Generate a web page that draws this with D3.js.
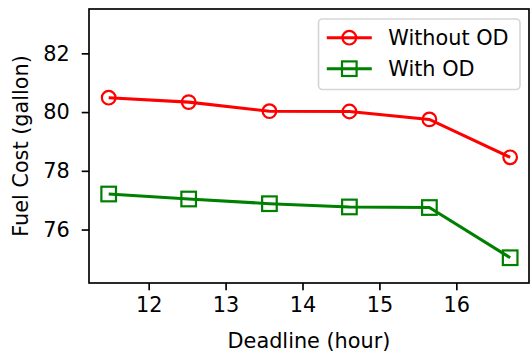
<!DOCTYPE html>
<html>
<head>
<meta charset="utf-8">
<script src="https://cdn.jsdelivr.net/npm/d3@7"></script>
<style>
  body { margin: 0; background: #fff; }
  text { font-family: "DejaVu Sans", sans-serif; }
</style>
</head>
<body>
<div id="chart-area"></div>
<script>
// data
const deadlines = [11.48, 12.52, 13.57, 14.61, 15.65, 16.70]
const withoutOD = [80.49, 80.34, 80.03, 80.02, 79.75, 78.46]
const withOD = [77.21, 77.04, 76.88, 76.77, 76.75, 75.04]
const xTicks = [12, 13, 14, 15, 16]
const yTicks = [76, 78, 80, 82]
const seriesNames = ["Without OD", "With OD"]

// canvas and margin sizes
const MARGIN = { LEFT: 89, RIGHT: 2, TOP: 9, BOTTOM: 69 }
const WIDTH = 531 - MARGIN.LEFT - MARGIN.RIGHT
const HEIGHT = 352 - MARGIN.TOP - MARGIN.BOTTOM
const FONT = "20.8px"

const svg = d3.select("#chart-area").append("svg")
  .attr("width", 531)
  .attr("height", 352)

const g = svg.append("g")
  .attr("transform", `translate(${MARGIN.LEFT}, ${MARGIN.TOP})`)

const x = d3.scaleLinear()
  .domain([11.224, 16.945])
  .range([0, WIDTH])

const y = d3.scaleLinear()
  .domain([74.18, 83.51])
  .range([HEIGHT, 0])

// axes
const xAxisGroup = g.append("g")
  .attr("transform", `translate(0, ${HEIGHT})`)
  .call(d3.axisBottom(x).tickValues(xTicks).tickSize(7.3).tickPadding(7).tickFormat(d3.format("d")))
const yAxisGroup = g.append("g")
  .call(d3.axisLeft(y).tickValues(yTicks).tickSize(7.3).tickPadding(12).tickFormat(d3.format("d")))

;[xAxisGroup, yAxisGroup].forEach(ax => {
  ax.select(".domain").remove()
  ax.selectAll(".tick line").attr("stroke", "#000").attr("stroke-width", 1.67)
  ax.selectAll(".tick text")
    .attr("fill", "#000")
    .style("font-size", FONT)
    .style("font-family", "DejaVu Sans")
})

// frame
g.append("rect")
  .attr("width", WIDTH)
  .attr("height", HEIGHT)
  .attr("fill", "none")
  .attr("stroke", "#000")
  .attr("stroke-width", 1.67)

// labels
g.append("text")
  .attr("x", WIDTH / 2)
  .attr("y", HEIGHT + 65)
  .attr("text-anchor", "middle")
  .style("font-size", FONT)
  .text("Deadline (hour)")

g.append("text")
  .attr("x", -(HEIGHT / 2))
  .attr("y", 28 - MARGIN.LEFT)
  .attr("text-anchor", "middle")
  .attr("transform", "rotate(-90)")
  .style("font-size", FONT)
  .text("Fuel Cost (gallon)")

const series = [
  { name: seriesNames[0], values: withoutOD, color: "#ff0000", marker: "circle" },
  { name: seriesNames[1], values: withOD, color: "#008000", marker: "square" }
]

const line = d3.line()
  .x(d => x(d[0]))
  .y(d => y(d[1]))

function drawMarker(sel, type, color) {
  if (type === "circle") {
    sel.append("circle")
      .attr("r", 6.8)
      .attr("fill", "none")
      .attr("stroke", color)
      .attr("stroke-width", 2.2)
  } else {
    sel.append("rect")
      .attr("x", -7.3).attr("y", -7.3)
      .attr("width", 14.6).attr("height", 14.6)
      .attr("fill", "none")
      .attr("stroke", color)
      .attr("stroke-width", 2.2)
  }
}

series.forEach(s => {
  const pts = deadlines.map((d, i) => [d, s.values[i]])
  g.append("path")
    .datum(pts)
    .attr("d", line)
    .attr("fill", "none")
    .attr("stroke", s.color)
    .attr("stroke-width", 3.1)
  g.selectAll(null)
    .data(pts)
    .enter().append("g")
    .attr("transform", d => `translate(${x(d[0])}, ${y(d[1])})`)
    .each(function() { drawMarker(d3.select(this), s.marker, s.color) })
})

// legend
const legend = g.append("g")
  .attr("transform", `translate(${318.5 - MARGIN.LEFT}, ${19 - MARGIN.TOP})`)

legend.append("rect")
  .attr("width", 201.5)
  .attr("height", 70.5)
  .attr("rx", 4)
  .attr("fill", "#fff")
  .attr("fill-opacity", 0.8)
  .attr("stroke", "#d6d6d6")
  .attr("stroke-width", 1.67)

series.forEach((s, i) => {
  const row = legend.append("g")
    .attr("transform", `translate(0, ${18.7 + i * 31})`)
  row.append("line")
    .attr("x1", 8.3).attr("x2", 53.3)
    .attr("stroke", s.color)
    .attr("stroke-width", 3.1)
  const m = row.append("g").attr("transform", "translate(30.8, 0)")
  drawMarker(m, s.marker, s.color)
  row.append("text")
    .attr("x", 69.8)
    .attr("y", 7.5)
    .style("font-size", FONT)
    .text(s.name)
})
</script>
</body>
</html>
